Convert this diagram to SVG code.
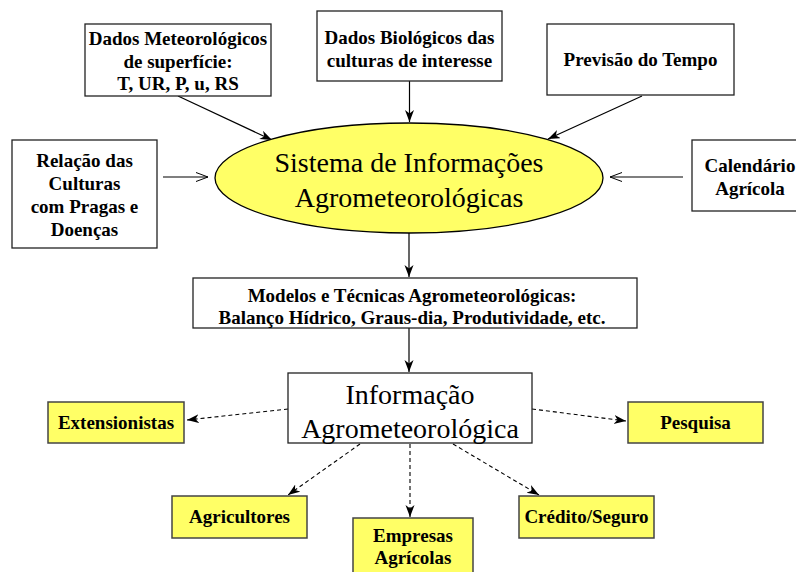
<svg xmlns="http://www.w3.org/2000/svg" width="796" height="572" viewBox="0 0 796 572">
<style>
.box{fill:#fff;stroke:#222;stroke-width:1.3}
.ybox{fill:#ffff66;stroke:#444;stroke-width:1.5}
.t{font-family:"Liberation Serif","Times New Roman",serif;font-weight:bold;font-size:19px;fill:#000;text-anchor:middle}
.big{font-family:"Liberation Serif","Times New Roman",serif;font-size:28px;fill:#000;text-anchor:middle}
.ln{fill:none;stroke:#000;stroke-width:1.2}
.dash{fill:none;stroke:#000;stroke-width:1.1;stroke-dasharray:4,3}
</style>
<defs>
<marker id="ah" markerUnits="userSpaceOnUse" markerWidth="14" markerHeight="11" refX="12" refY="4.5" orient="auto">
<path d="M0,0 L12,4.5 L0,9 L3.5,4.5 z" fill="#000"/>
</marker>
<marker id="ov" markerUnits="userSpaceOnUse" markerWidth="14" markerHeight="12" refX="12" refY="5" orient="auto">
<path d="M0,0.5 L12,5 L0,9.5" fill="none" stroke="#000" stroke-width="1"/>
</marker>
</defs>
<rect width="796" height="572" fill="#fff"/>
<g id="connectors">
<line class="ln" x1="178" y1="96" x2="272" y2="140" marker-end="url(#ah)"/>
<line class="ln" x1="409.5" y1="81" x2="409.5" y2="122" marker-end="url(#ah)"/>
<line class="ln" x1="642" y1="96" x2="548" y2="139" marker-end="url(#ah)"/>
<line class="ln" x1="163" y1="177" x2="208" y2="177" marker-end="url(#ov)"/>
<line class="ln" x1="683" y1="177" x2="610" y2="177" marker-end="url(#ov)"/>
<line class="ln" x1="409" y1="233" x2="409" y2="277" marker-end="url(#ah)"/>
<line class="ln" x1="409" y1="328" x2="409" y2="372" marker-end="url(#ah)"/>
<line class="dash" x1="288" y1="409" x2="187" y2="420" marker-end="url(#ah)"/>
<line class="dash" x1="532" y1="409" x2="626" y2="421" marker-end="url(#ah)"/>
<line class="dash" x1="360" y1="444" x2="288" y2="495" marker-end="url(#ah)"/>
<line class="dash" x1="410" y1="444" x2="410" y2="517" marker-end="url(#ah)"/>
<line class="dash" x1="453" y1="444" x2="539" y2="495" marker-end="url(#ah)"/>
</g>
<g id="dados-meteorologicos">
<rect class="box" x="85" y="24" width="186" height="72"/>
<text class="t" x="178" y="45">Dados Meteorológicos</text>
<text class="t" x="178" y="67.5">de superfície:</text>
<text class="t" x="178" y="90">T, UR, P, u, RS</text>
</g>
<g id="dados-biologicos">
<rect class="box" x="317" y="11" width="185" height="70"/>
<text class="t" x="409.5" y="44">Dados Biológicos das</text>
<text class="t" x="409.5" y="67">culturas de interesse</text>
</g>
<g id="previsao">
<rect class="box" x="547" y="24" width="187" height="71"/>
<text class="t" x="640.5" y="66">Previsão do Tempo</text>
</g>
<g id="relacao">
<rect class="box" x="12" y="140" width="145" height="108"/>
<text class="t" x="84.5" y="167">Relação das</text>
<text class="t" x="84.5" y="190">Culturas</text>
<text class="t" x="84.5" y="213">com Pragas e</text>
<text class="t" x="84.5" y="236">Doenças</text>
</g>
<g id="calendario">
<rect class="box" x="692" y="140" width="116" height="71"/>
<text class="t" x="750" y="172">Calendário</text>
<text class="t" x="750" y="195">Agrícola</text>
</g>
<g id="sistema">
<ellipse cx="409" cy="178" rx="194" ry="55" fill="#ffff66" stroke="#000" stroke-width="1.3"/>
<text class="big" x="409" y="172">Sistema de Informações</text>
<text class="big" x="409" y="207">Agrometeorológicas</text>
</g>
<g id="modelos">
<rect class="box" x="193" y="278" width="444" height="50"/>
<text class="t" x="412" y="302">Modelos e Técnicas Agrometeorológicas:</text>
<text class="t" x="412" y="324">Balanço Hídrico, Graus-dia, Produtividade, etc.</text>
</g>
<g id="informacao">
<rect class="box" x="288" y="373" width="244" height="70"/>
<text class="big" x="410" y="404">Informação</text>
<text class="big" x="410" y="438">Agrometeorológica</text>
</g>
<g id="extensionistas">
<rect class="ybox" x="48" y="402" width="136" height="41"/>
<text class="t" x="116" y="429">Extensionistas</text>
</g>
<g id="pesquisa">
<rect class="ybox" x="628" y="402" width="135" height="41"/>
<text class="t" x="695.5" y="429">Pesquisa</text>
</g>
<g id="agricultores">
<rect class="ybox" x="172" y="496" width="135" height="42"/>
<text class="t" x="239.5" y="523">Agricultores</text>
</g>
<g id="empresas">
<rect class="ybox" x="353" y="518" width="120" height="60"/>
<text class="t" x="413" y="542">Empresas</text>
<text class="t" x="413" y="564">Agrícolas</text>
</g>
<g id="credito">
<rect class="ybox" x="519" y="496" width="135" height="42"/>
<text class="t" x="586.5" y="523">Crédito/Seguro</text>
</g>
</svg>
